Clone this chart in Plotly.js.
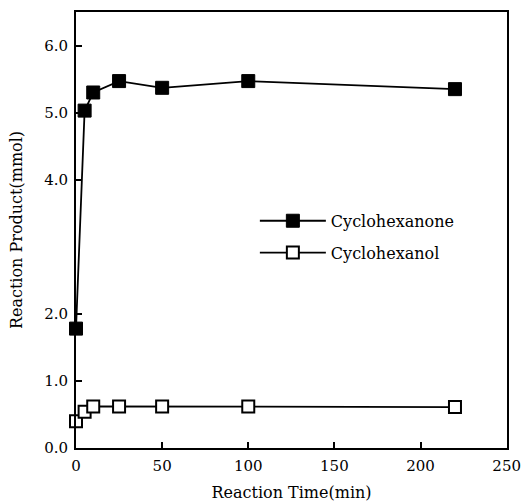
<!DOCTYPE html>
<html>
<head>
<meta charset="utf-8">
<script src="https://cdn.plot.ly/plotly-3.0.1.min.js"></script>
<style>html,body{margin:0;padding:0;background:#fff;}#chart{width:523px;height:502px;}</style>
</head>
<body>
<div id="chart"></div>
<script>
const timeMin = [0, 5, 10, 25, 50, 100, 220];
const cyclohexanone = [1.78, 5.03, 5.30, 5.47, 5.37, 5.47, 5.35];
const cyclohexanol = [0.40, 0.54, 0.62, 0.62, 0.62, 0.62, 0.61];
const seriesNames = ["Cyclohexanone", "Cyclohexanol"];
const xTicks = [0, 50, 100, 150, 200, 250];
const yTicks = [0, 1, 2, 4, 5, 6];

const font = "DejaVu Serif, serif";

const traces = [
  {
    x: timeMin, y: cyclohexanone, name: seriesNames[0], mode: "lines+markers",
    legendgroup: "a", cliponaxis: false,
    line: {color: "#000", width: 1.8},
    marker: {symbol: "square", size: 13, color: "#000", line: {color: "#000", width: 1}}
  },
  {
    x: timeMin, y: cyclohexanol, name: seriesNames[1], mode: "lines+markers",
    legendgroup: "b", cliponaxis: false,
    line: {color: "#000", width: 1.8},
    marker: {symbol: "square", size: 12, color: "#fff", line: {color: "#000", width: 2}}
  }
];

const layout = {
  width: 523, height: 502,
  margin: {l: 76, r: 16, t: 12, b: 54},
  paper_bgcolor: "#fff", plot_bgcolor: "#fff",
  font: {family: font, color: "#000", size: 15},
  showlegend: true,
  legend: {
    x: 0.415, y: 0.56, xanchor: "left", yanchor: "top",
    font: {family: font, size: 16, color: "#000"},
    bgcolor: "rgba(0,0,0,0)", borderwidth: 0,
    traceorder: "grouped", tracegroupgap: 8, itemwidth: 66
  },
  xaxis: {
    range: [0, 250.2], tickvals: xTicks, ticktext: xTicks.map(String),
    ticks: "inside", ticklen: 6, tickwidth: 2, tickcolor: "#000",
    ticklabeloverflow: "allow", ticklabelstandoff: 3,
    showline: true, linecolor: "#000", linewidth: 2, mirror: true,
    showgrid: false, zeroline: false,
    tickfont: {family: font, size: 15},
    title: {text: "Reaction Time(min)", font: {family: font, size: 16}, standoff: 14}
  },
  yaxis: {
    range: [0, 6.5], tickvals: yTicks, tickformat: ".1f",
    ticks: "inside", ticklen: 6, tickwidth: 2, tickcolor: "#000",
    ticklabelstandoff: 3,
    showline: true, linecolor: "#000", linewidth: 2, mirror: true,
    showgrid: false, zeroline: false,
    tickfont: {family: font, size: 15},
    title: {text: "Reaction Product(mmol)", font: {family: font, size: 16}, standoff: 18}
  }
};

Plotly.newPlot("chart", traces, layout, {displayModeBar: false, staticPlot: true});
</script>
</body>
</html>
